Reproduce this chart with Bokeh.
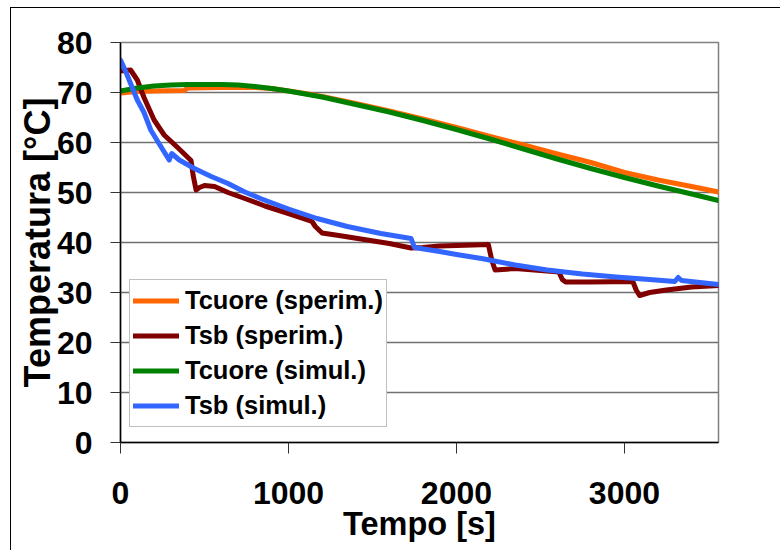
from bokeh.plotting import figure
from bokeh.models import Range1d, FixedTicker, Legend, LegendItem
from bokeh.embed import file_html
from bokeh.resources import INLINE

# ---- data ----
t_cuore_exp = [0, 100, 200, 380, 400, 600, 800, 900, 1000, 1100, 1200, 1400, 1600, 1800, 2000,
               2200, 2400, 2600, 2800, 3000, 3200, 3400, 3560]
T_cuore_exp = [69.9, 70.2, 70.3, 70.4, 70.9, 71.0, 71.0, 70.8, 70.3, 69.8, 69.2, 67.8, 66.3, 64.7, 63.0,
               61.2, 59.5, 57.7, 56.0, 54.0, 52.5, 51.2, 50.1]

t_sb_exp = [0, 60, 100, 140, 200, 260, 340, 420, 432, 450, 470, 500, 560, 640, 740, 860, 1000, 1140,
            1160, 1200, 1300, 1450, 1600, 1730, 1800, 1900, 2000, 2100, 2190, 2210, 2230, 2350, 2500,
            2610, 2630, 2650, 2800, 3050, 3070, 3090, 3150, 3250, 3400, 3560]
T_sb_exp = [74.3, 74.5, 72.5, 69.0, 64.5, 61.5, 59.0, 56.4, 53.5, 50.5, 51.0, 51.4, 51.2, 50.0, 48.8,
            47.3, 45.8, 44.2, 43.2, 41.9, 41.4, 40.6, 39.8, 38.9, 39.0, 39.3, 39.4, 39.5, 39.6, 36.5,
            34.5, 34.8, 34.4, 34.1, 32.6, 32.1, 32.1, 32.2, 30.5, 29.4, 30.0, 30.5, 31.1, 31.4]

t_cuore_sim = [0, 100, 200, 300, 400, 500, 600, 700, 800, 900, 1000, 1100, 1200, 1400, 1600, 1800,
               2000, 2200, 2400, 2600, 2800, 3000, 3200, 3400, 3560]
T_cuore_sim = [70.3, 70.9, 71.3, 71.5, 71.6, 71.6, 71.6, 71.5, 71.2, 70.8, 70.3, 69.7, 69.1, 67.6,
               66.1, 64.4, 62.6, 60.7, 58.7, 56.7, 54.8, 53.0, 51.3, 49.7, 48.4]

t_sb_sim = [0, 30, 60, 100, 140, 180, 240, 290, 305, 350, 440, 540, 640, 740, 840, 1000, 1170, 1350,
            1550, 1730, 1750, 1900, 2000, 2150, 2350, 2540, 2750, 2950, 3150, 3300, 3320, 3340, 3450, 3560]
T_sb_sim = [76.5, 74.3, 71.8, 68.5, 66.0, 62.5, 59.2, 56.5, 57.8, 56.5, 54.8, 53.2, 51.8, 50.1, 48.7,
            46.7, 44.8, 43.2, 41.8, 40.8, 39.0, 38.2, 37.6, 36.8, 35.5, 34.5, 33.7, 33.1, 32.6, 32.2,
            33.0, 32.4, 32.0, 31.6]

series_names = ["Tcuore (sperim.)", "Tsb (sperim.)", "Tcuore (simul.)", "Tsb (simul.)"]
series_colors = ["#FF6600", "#800000", "#008000", "#3366FF"]
x_ticks = [0, 1000, 2000, 3000]
y_ticks = [0, 10, 20, 30, 40, 50, 60, 70, 80]
x_max = 3560
y_max = 80

FONT = "Liberation Sans"

p = figure(width=770, height=543, output_backend="svg", toolbar_location=None,
           x_range=Range1d(0, x_max), y_range=Range1d(0, y_max),
           min_border_left=109, min_border_right=63, min_border_top=34, min_border_bottom=109)
p.styles = {"margin-left": "10px", "margin-top": "7px",
            "border-left": "1px solid black", "border-top": "1px solid black"}

p.background_fill_color = "white"
p.border_fill_color = "white"
p.outline_line_color = "#808080"
p.outline_line_width = 1.5

p.xgrid.visible = False
p.ygrid.grid_line_color = "#707070"
p.ygrid.grid_line_width = 1.5
p.ygrid.ticker = FixedTicker(ticks=y_ticks)

p.xaxis.ticker = FixedTicker(ticks=x_ticks)
p.yaxis.ticker = FixedTicker(ticks=y_ticks)
for ax in (p.xaxis[0], p.yaxis[0]):
    ax.axis_line_color = "black"
    ax.axis_line_width = 1.5
    ax.major_tick_line_color = "#333333"
    ax.major_tick_line_width = 1
    ax.major_tick_in = 0
    ax.minor_tick_line_color = None
    ax.major_label_text_font = FONT
    ax.major_label_text_font_style = "bold"
    ax.major_label_text_font_size = "32px"
    ax.major_label_text_color = "black"
    ax.axis_label_text_font = FONT
    ax.axis_label_text_font_style = "bold"
    ax.axis_label_text_color = "black"

p.xaxis.major_tick_out = 11
p.yaxis.major_tick_out = 10
p.xaxis.major_label_standoff = 28
p.yaxis.major_label_standoff = 18
p.xaxis.axis_label = "Tempo [s]"
p.yaxis.axis_label = "Temperatura [°C]"
p.xaxis.axis_label_text_font_size = "32.5px"
p.yaxis.axis_label_text_font_size = "36px"
p.xaxis.axis_label_standoff = -1
p.yaxis.axis_label_standoff = -4

xs = [t_cuore_exp, t_sb_exp, t_cuore_sim, t_sb_sim]
ys = [T_cuore_exp, T_sb_exp, T_cuore_sim, T_sb_sim]
items = []
for x, y, name, col in zip(xs, ys, series_names, series_colors):
    r = p.line(x, y, line_color=col, line_width=5, line_join="round", line_cap="round")
    items.append(LegendItem(label=name, renderers=[r]))

legend = Legend(items=items, location=(9, 15))
legend.label_text_font = FONT
legend.label_text_font_style = "bold"
legend.label_text_font_size = "25.5px"
legend.label_text_color = "black"
legend.glyph_width = 46
legend.glyph_height = 35
legend.label_height = 35
legend.label_standoff = 6
legend.spacing = 0
legend.padding = 3
legend.margin = 0
legend.border_line_color = "#808080"
legend.border_line_width = 1.5
legend.background_fill_color = "white"
legend.background_fill_alpha = 1
p.add_layout(legend, "center")

open("out.html", "w").write(file_html(p, INLINE))
